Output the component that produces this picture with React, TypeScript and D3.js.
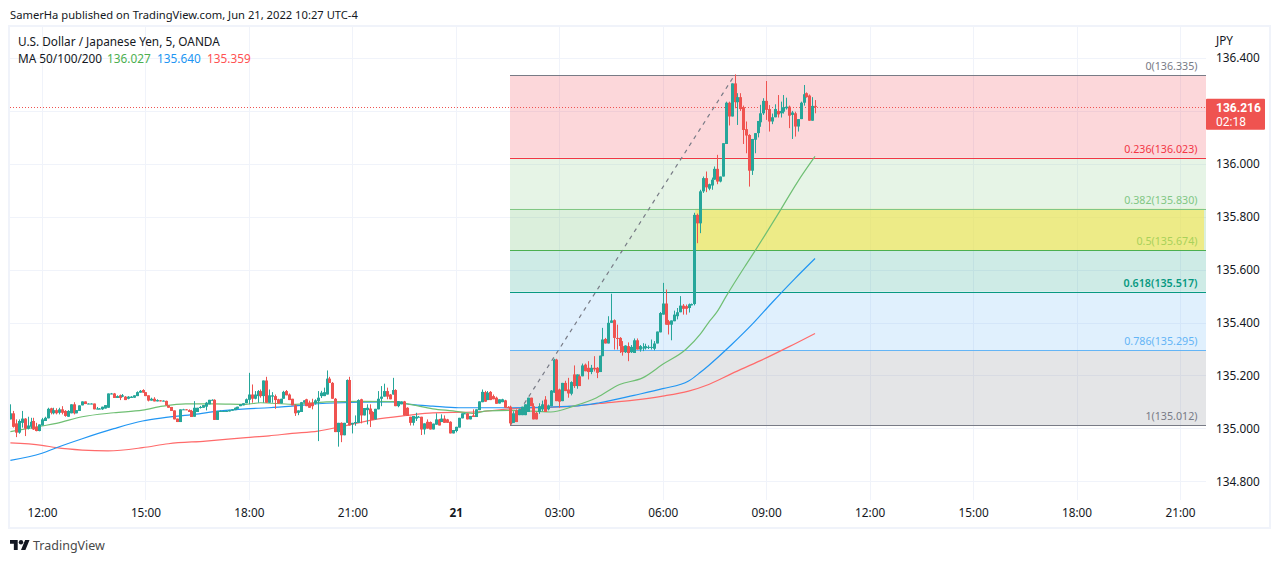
import React, { useRef, useEffect } from "react";
import {
  select,
  scaleLinear,
  scaleUtc,
  axisRight,
  axisBottom,
  line,
  curveMonotoneX,
  format,
  utcFormat,
  utcHour,
} from "d3";

// 5 minute candles, first one is 55 minutes before the 12:00 tick
const FIRST_BAR = -11;
const BAR_MS = 5 * 60 * 1000;
const T0 = Date.UTC(2022, 5, 20, 12, 0);
const T1 = Date.UTC(2022, 5, 21, 21, 0);

const opens = [
  135.034,135.057,135.019,134.984,135.021,135.037,134.999,135.006,135.028,135.006,
  134.990,135.011,135.028,135.038,135.076,135.057,135.069,135.059,135.072,135.066,
  135.044,135.057,135.091,135.057,135.066,135.087,135.102,135.092,135.094,135.094,
  135.072,135.075,135.072,135.075,135.078,135.130,135.132,135.115,135.125,135.120,
  135.120,135.112,135.115,135.116,135.122,135.135,135.145,135.137,135.125,135.105,
  135.112,135.102,135.106,135.104,135.104,135.087,135.081,135.068,135.037,135.024,
  135.072,135.072,135.069,135.066,135.044,135.062,135.077,135.078,135.082,135.091,
  135.106,135.108,135.032,135.066,135.066,135.066,135.064,135.067,135.069,135.074,
  135.084,135.087,135.095,135.108,135.128,135.112,135.122,135.141,135.122,135.181,
  135.097,135.120,135.122,135.110,135.094,135.112,135.141,135.128,135.112,135.087,
  135.059,135.062,135.097,135.110,135.097,135.097,135.094,135.103,135.122,135.122,
  135.128,135.188,135.172,135.112,134.986,135.021,134.974,135.021,135.183,135.015,
  135.021,135.021,135.110,135.049,135.069,135.075,135.062,135.034,135.072,135.112,
  135.120,135.141,135.128,135.128,135.145,135.084,135.091,135.102,135.078,135.044,
  135.021,135.037,135.044,135.044,134.996,135.025,135.024,134.996,135.014,135.034,
  135.024,135.037,135.034,135.025,134.981,134.990,135.003,135.038,135.054,135.057,
  135.034,135.049,135.043,135.069,135.099,135.137,135.107,135.138,135.122,135.116,
  135.094,135.099,135.106,135.081,135.082,135.021,135.068,135.050,135.050,135.050,
  135.062,135.116,135.084,135.059,135.062,135.072,135.109,135.072,135.084,135.135,
  135.260,135.147,135.103,135.172,135.147,135.131,135.204,135.160,135.197,135.197,
  135.241,135.229,135.213,135.229,135.229,135.213,135.273,135.338,135.321,135.399,
  135.409,135.342,135.342,135.311,135.288,135.311,135.288,135.285,135.333,135.298,
  135.304,135.303,135.308,135.306,135.301,135.321,135.363,135.430,135.472,135.405,
  135.392,135.405,135.424,135.439,135.464,135.462,135.455,135.465,135.470,135.807,
  135.775,135.896,135.946,135.906,135.918,135.940,135.981,135.933,135.952,136.075,
  136.231,136.179,136.304,136.233,136.252,136.214,136.131,136.109,135.974,136.091,
  136.116,136.157,136.191,136.238,136.207,136.160,136.176,136.200,136.191,136.197,
  136.210,136.216,136.185,136.191,136.141,136.169,136.231,136.267,136.258,136.163,136.219,
];
const highs = [
  135.091,135.066,135.034,135.034,135.066,135.039,135.044,135.040,135.040,135.021,
  135.015,135.040,135.044,135.078,135.078,135.078,135.076,135.078,135.084,135.069,
  135.069,135.091,135.099,135.069,135.087,135.102,135.102,135.095,135.095,135.094,
  135.081,135.077,135.082,135.088,135.132,135.134,135.134,135.125,135.128,135.130,
  135.122,135.122,135.122,135.125,135.140,135.145,135.148,135.137,135.125,135.116,
  135.118,135.110,135.107,135.106,135.105,135.087,135.081,135.068,135.037,135.072,
  135.074,135.073,135.072,135.070,135.103,135.078,135.085,135.088,135.100,135.108,
  135.110,135.110,135.066,135.068,135.067,135.067,135.070,135.073,135.079,135.082,
  135.091,135.095,135.113,135.210,135.166,135.141,135.145,135.147,135.181,135.195,
  135.147,135.137,135.128,135.112,135.112,135.142,135.145,135.132,135.112,135.091,
  135.068,135.100,135.106,135.112,135.105,135.112,135.110,135.141,135.142,135.154,
  135.219,135.195,135.175,135.115,135.021,135.023,135.021,135.185,135.195,135.021,
  135.049,135.110,135.112,135.077,135.091,135.091,135.065,135.074,135.141,135.160,
  135.169,135.154,135.130,135.191,135.148,135.103,135.102,135.104,135.080,135.044,
  135.047,135.059,135.047,135.044,135.019,135.034,135.026,135.018,135.057,135.036,
  135.053,135.049,135.036,135.027,134.994,135.006,135.040,135.057,135.058,135.057,
  135.047,135.072,135.072,135.102,135.147,135.142,135.141,135.141,135.128,135.120,
  135.110,135.112,135.108,135.084,135.086,135.065,135.072,135.075,135.082,135.091,
  135.116,135.116,135.095,135.062,135.095,135.105,135.122,135.090,135.145,135.263,
  135.263,135.150,135.172,135.180,135.191,135.178,135.238,135.204,135.204,135.245,
  135.245,135.254,135.240,135.273,135.232,135.275,135.380,135.342,135.424,135.509,
  135.412,135.392,135.345,135.330,135.314,135.325,135.315,135.340,135.340,135.315,
  135.322,135.320,135.314,135.336,135.330,135.366,135.440,135.550,135.525,135.410,
  135.408,135.445,135.455,135.500,135.470,135.468,135.472,135.472,135.815,135.812,
  135.902,135.952,135.971,135.925,135.948,135.990,136.034,135.952,136.078,136.235,
  136.235,136.304,136.338,136.267,136.267,136.220,136.160,136.112,136.094,136.116,
  136.162,136.223,136.248,136.313,136.222,136.190,136.225,136.260,136.235,136.260,
  136.250,136.220,136.200,136.197,136.169,136.235,136.298,136.270,136.262,136.252,136.241,
];
const lows = [
  135.034,135.003,134.967,134.980,135.003,134.971,134.996,134.999,134.994,134.989,
  134.989,135.011,135.028,135.038,135.053,135.053,135.053,135.053,135.053,135.044,
  135.044,135.057,135.053,135.057,135.066,135.087,135.092,135.092,135.092,135.072,
  135.072,135.072,135.070,135.075,135.078,135.129,135.115,135.115,135.107,135.118,
  135.107,135.110,135.115,135.116,135.122,135.135,135.135,135.122,135.102,135.105,
  135.102,135.102,135.102,135.102,135.087,135.078,135.066,135.034,135.024,135.024,
  135.070,135.069,135.062,135.043,135.044,135.062,135.075,135.078,135.068,135.091,
  135.106,135.032,135.032,135.063,135.065,135.065,135.064,135.067,135.069,135.074,
  135.084,135.087,135.095,135.091,135.097,135.110,135.097,135.116,135.097,135.097,
  135.097,135.097,135.074,135.094,135.094,135.112,135.125,135.107,135.087,135.047,
  135.050,135.062,135.097,135.084,135.078,135.072,135.090,134.952,135.115,135.122,
  135.128,135.172,135.112,134.986,134.931,134.948,134.974,135.021,135.011,134.981,
  135.010,135.021,135.019,135.049,135.015,135.005,135.032,135.034,135.072,135.084,
  135.120,135.110,135.110,135.128,135.084,135.080,135.091,135.049,135.047,135.011,
  135.011,135.028,135.042,134.975,134.977,134.999,134.996,134.996,135.014,135.011,
  135.024,135.021,135.021,134.981,134.981,134.985,135.003,135.038,135.054,135.034,
  135.034,135.043,135.043,135.069,135.099,135.101,135.107,135.107,135.110,135.093,
  135.094,135.099,135.078,135.078,135.012,135.021,135.024,135.050,135.050,135.050,
  135.062,135.084,135.034,135.034,135.055,135.065,135.062,135.068,135.084,135.135,
  135.103,135.078,135.103,135.141,135.116,135.125,135.153,135.150,135.160,135.197,
  135.216,135.185,135.205,135.215,135.190,135.213,135.273,135.321,135.321,135.399,
  135.298,135.298,135.285,135.275,135.285,135.254,135.285,135.285,135.298,135.290,
  135.292,135.298,135.300,135.298,135.295,135.321,135.363,135.430,135.392,135.355,
  135.333,135.405,135.412,135.439,135.430,135.430,135.438,135.465,135.465,135.700,
  135.738,135.890,135.893,135.900,135.902,135.940,135.923,135.930,135.952,136.075,
  136.145,136.179,136.210,136.147,136.200,136.075,136.040,135.914,135.958,136.040,
  136.100,136.140,136.185,136.166,136.122,136.150,136.176,136.175,136.175,136.190,
  136.205,136.135,136.094,136.103,136.122,136.169,136.220,136.250,136.163,136.163,136.191,
];
const closes = [
  135.057,135.006,134.984,135.028,135.037,134.999,135.011,135.025,134.996,134.990,
  135.015,135.034,135.040,135.074,135.059,135.069,135.057,135.072,135.059,135.047,
  135.066,135.091,135.057,135.069,135.087,135.102,135.092,135.094,135.094,135.072,
  135.075,135.075,135.082,135.088,135.132,135.132,135.115,135.122,135.115,135.125,
  135.107,135.120,135.120,135.125,135.137,135.142,135.135,135.122,135.105,135.112,
  135.102,135.107,135.102,135.105,135.087,135.078,135.066,135.034,135.024,135.072,
  135.072,135.069,135.062,135.043,135.078,135.078,135.081,135.088,135.097,135.108,
  135.108,135.032,135.066,135.066,135.066,135.066,135.069,135.072,135.078,135.082,
  135.091,135.095,135.110,135.128,135.112,135.128,135.141,135.122,135.181,135.097,
  135.125,135.125,135.107,135.094,135.112,135.138,135.125,135.107,135.087,135.057,
  135.068,135.099,135.106,135.084,135.078,135.084,135.106,135.116,135.135,135.137,
  135.188,135.172,135.112,134.986,135.021,134.974,135.021,135.183,135.011,135.021,
  135.024,135.107,135.049,135.077,135.078,135.053,135.032,135.074,135.112,135.120,
  135.141,135.120,135.110,135.145,135.084,135.103,135.102,135.049,135.047,135.021,
  135.047,135.044,135.044,134.996,135.019,134.999,134.996,135.018,135.034,135.011,
  135.037,135.021,135.021,134.981,134.994,135.006,135.040,135.057,135.057,135.034,
  135.047,135.043,135.072,135.102,135.138,135.101,135.135,135.107,135.110,135.093,
  135.110,135.110,135.078,135.078,135.019,135.057,135.024,135.072,135.082,135.091,
  135.116,135.084,135.034,135.034,135.084,135.091,135.062,135.087,135.143,135.260,
  135.103,135.101,135.172,135.141,135.132,135.175,135.160,135.204,135.160,135.238,
  135.216,135.213,135.229,135.223,135.210,135.275,135.336,135.321,135.399,135.408,
  135.342,135.339,135.311,135.288,135.313,135.285,135.308,135.333,135.298,135.311,
  135.306,135.311,135.308,135.308,135.321,135.366,135.436,135.472,135.392,135.392,
  135.408,135.430,135.439,135.464,135.452,135.452,135.469,135.470,135.807,135.775,
  135.896,135.946,135.911,135.923,135.940,135.981,135.933,135.952,136.078,136.231,
  136.179,136.304,136.233,136.252,136.207,136.128,136.107,135.974,136.094,136.116,
  136.162,136.191,136.238,136.204,136.160,136.176,136.207,136.187,136.200,136.214,
  136.216,136.182,136.194,136.141,136.169,136.231,136.263,136.252,136.163,136.219,136.216,
];

// moving averages: bar number (0 = 12:00) and price
const ma50Bars = [-11, 0, 5, 14, 25, 35, 42, 50, 60, 71, 76, 87, 99, 111, 122, 128, 136, 143, 150, 155, 163, 177, 185, 193, 201, 209, 216, 224, 229, 232, 235, 238, 245, 248, 256, 263, 269];
const ma50 = [134.988, 135.009, 135.019, 135.044, 135.059, 135.069, 135.084, 135.093, 135.093, 135.091, 135.097, 135.091, 135.1, 135.102, 135.101, 135.091, 135.074, 135.066, 135.057, 135.066, 135.068, 135.062, 135.084, 135.116, 135.166, 135.191, 135.242, 135.298, 135.355, 135.401, 135.442, 135.498, 135.619, 135.669, 135.808, 135.933, 136.028];
const ma100Bars = [-11, 0, 5, 14, 25, 35, 42, 53, 62, 71, 79, 87, 99, 122, 128, 136, 145, 163, 185, 194, 206, 216, 225, 229, 232, 240, 247, 254, 262, 269];
const ma100 = [134.879, 134.906, 134.927, 134.961, 134.999, 135.028, 135.04, 135.053, 135.066, 135.074, 135.078, 135.084, 135.095, 135.1, 135.091, 135.084, 135.078, 135.078, 135.084, 135.097, 135.125, 135.15, 135.179, 135.211, 135.238, 135.317, 135.392, 135.475, 135.566, 135.642];
const ma200Bars = [-11, 0, 5, 14, 23, 35, 44, 57, 71, 79, 87, 96, 105, 116, 127, 136, 150, 163, 185, 194, 206, 216, 225, 232, 240, 250, 260, 269];
const ma200 = [134.945, 134.936, 134.927, 134.918, 134.915, 134.927, 134.942, 134.952, 134.965, 134.972, 134.981, 134.99, 135.009, 135.034, 135.049, 135.059, 135.062, 135.074, 135.084, 135.094, 135.107, 135.122, 135.141, 135.166, 135.207, 135.256, 135.309, 135.359];
const maLabels = ["136.027", "135.640", "135.359"];

// grid runs on all of these, the 136.200 label sits under the last price tag
const priceTicks = [136.4, 136.2, 136.0, 135.8, 135.6, 135.4, 135.2, 135.0, 134.8];
const priceLabels = [136.4, 136.0, 135.8, 135.6, 135.4, 135.2, 135.0, 134.8];

const fibRatios = ["0", "0.236", "0.382", "0.5", "0.618", "0.786", "1"];
const fibPrices = [136.335, 136.023, 135.83, 135.674, 135.517, 135.295, 135.012];
const fibColors = ["#787B86", "#F23645", "#81C784", "#4CAF50", "#089981", "#64B5F6", "#787B86"];
const fibTextColors = ["#787B86", "#F23645", "#81C784", "#A9D15A", "#089981", "#64B5F6", "#787B86"];
const fibFills = ["#F23645", "#81C784", "#4CAF50", "#089981", "#64B5F6", "#787B86"];

const LAST_PRICE = 136.216;
const FONT = "'Noto Sans', sans-serif";
const UP = "#26A69A";
const DOWN = "#EF5350";

const App: React.FC = () => {
  const chartRef = useRef(null);

  useEffect(() => {
    const svg = select(chartRef.current);
    svg.selectAll("*").remove();

    const paneRight = 1206;
    const paneBottom = 500;
    const paneTop = 27;
    const paneLeft = 10;

    const xScale = scaleUtc().domain([T0, T1]).range([42, 1180]);
    const yScale = scaleLinear().domain([134.8, 136.4]).range([481.3, 58]);
    const barX = (i: number) => xScale(T0 + i * BAR_MS);

    svg.append("rect").attr("width", 1280).attr("height", 563).attr("fill", "#fff");

    // clip everything that runs past the left edge of the pane
    svg.append("clipPath").attr("id", "pane")
      .append("rect")
      .attr("x", paneLeft).attr("y", paneTop)
      .attr("width", paneRight - paneLeft).attr("height", paneBottom - paneTop);

    const pane = svg.append("g").attr("clip-path", "url(#pane)");

    const timeTicks = utcHour.range(new Date(T0), new Date(T1 + 1), 3);

    // grid
    pane.selectAll(".hgrid").data(priceTicks).enter().append("line")
      .attr("x1", paneLeft).attr("x2", paneRight)
      .attr("y1", (d: number) => Math.round(yScale(d)) + 0.5)
      .attr("y2", (d: number) => Math.round(yScale(d)) + 0.5)
      .attr("stroke", "#F0F3FA");
    pane.selectAll(".vgrid").data(timeTicks).enter().append("line")
      .attr("y1", paneTop).attr("y2", paneBottom)
      .attr("x1", (d: Date) => Math.round(xScale(d)) + 0.5)
      .attr("x2", (d: Date) => Math.round(xScale(d)) + 0.5)
      .attr("stroke", "#F0F3FA");

    // fib retracement
    const fibLeft = Math.round(barX(163));
    fibFills.forEach((fill, k) => {
      pane.append("rect")
        .attr("x", fibLeft)
        .attr("y", yScale(fibPrices[k]))
        .attr("width", paneRight - fibLeft)
        .attr("height", yScale(fibPrices[k + 1]) - yScale(fibPrices[k]))
        .attr("fill", fill)
        .attr("fill-opacity", 0.2);
    });
    // the yellow box sitting on the 0.382 - 0.5 band
    const boxLeft = barX(227) + 1;
    pane.append("rect")
      .attr("x", boxLeft)
      .attr("y", yScale(fibPrices[2]))
      .attr("width", paneRight - 2 - boxLeft)
      .attr("height", yScale(fibPrices[3]) - yScale(fibPrices[2]))
      .attr("fill", "rgb(249,232,78)")
      .attr("fill-opacity", 0.6);
    fibPrices.forEach((p, k) => {
      const y = Math.round(yScale(p)) + 0.5;
      pane.append("line")
        .attr("x1", fibLeft).attr("x2", paneRight)
        .attr("y1", y).attr("y2", y)
        .attr("stroke", fibColors[k]);
      pane.append("text")
        .attr("x", 1197.5)
        .attr("y", y - 5.5)
        .attr("text-anchor", "end")
        .attr("font-size", 10.7)
        .attr("font-family", FONT)
        .attr("font-weight", k === 4 ? 600 : 400)
        .attr("fill", fibTextColors[k])
        .text(`${fibRatios[k]}(${p.toFixed(3)})`);
    });

    // dashed trend line of the fib
    pane.append("line")
      .attr("x1", barX(163)).attr("y1", yScale(fibPrices[6]))
      .attr("x2", barX(241)).attr("y2", yScale(fibPrices[0]))
      .attr("stroke", "#787B86")
      .attr("stroke-width", 1.2)
      .attr("stroke-dasharray", "4 4.5");

    // last price line
    const lastY = Math.round(yScale(LAST_PRICE)) + 0.5;
    pane.append("line")
      .attr("x1", paneLeft).attr("x2", paneRight)
      .attr("y1", lastY).attr("y2", lastY)
      .attr("stroke", DOWN)
      .attr("stroke-dasharray", "1 2");

    // moving averages
    const drawMa = (bars: number[], values: number[], color: string) => {
      const path = line<number>()
        .x((_, k) => barX(bars[k]))
        .y((d) => yScale(d))
        .curve(curveMonotoneX);
      pane.append("path")
        .attr("d", path(values))
        .attr("fill", "none")
        .attr("stroke", color)
        .attr("stroke-width", 1.2);
    };
    drawMa(ma200Bars, ma200, "#FF6B6B");
    drawMa(ma100Bars, ma100, "#2196F3");
    drawMa(ma50Bars, ma50, "#6FBF73");

    // candles
    const barIdx = opens.map((_, k) => k);
    const color = (k: number) => (closes[k] >= opens[k] ? UP : DOWN);
    const cx = (k: number) => Math.round(barX(k + FIRST_BAR));
    pane.selectAll(".wick").data(barIdx).enter().append("rect")
      .attr("x", (k: number) => cx(k))
      .attr("width", 1)
      .attr("y", (k: number) => yScale(highs[k]))
      .attr("height", (k: number) => Math.max(1, yScale(lows[k]) - yScale(highs[k])))
      .attr("fill", color);
    pane.selectAll(".body").data(barIdx).enter().append("rect")
      .attr("x", (k: number) => cx(k) - 1)
      .attr("width", 3)
      .attr("y", (k: number) => yScale(Math.max(opens[k], closes[k])))
      .attr("height", (k: number) => Math.max(1, Math.abs(yScale(opens[k]) - yScale(closes[k]))))
      .attr("fill", color);

    // price axis
    const yAxis = axisRight(yScale)
      .tickValues(priceLabels)
      .tickFormat(format(".3f"))
      .tickSize(0)
      .tickPadding(10);
    const yAxisG = svg.append("g")
      .attr("transform", `translate(${paneRight},0)`)
      .call(yAxis);
    yAxisG.select(".domain").remove();
    yAxisG.selectAll("text")
      .attr("font-size", 11.8)
      .attr("font-family", FONT)
      .attr("fill", "#131722");

    // time axis
    const fmt = utcFormat("%H:%M");
    const xAxis = axisBottom(xScale)
      .tickValues(timeTicks)
      .tickFormat((d: any) => (d.getUTCHours() === 0 ? String(d.getUTCDate()) : fmt(d)))
      .tickSize(0)
      .tickPadding(9);
    const xAxisG = svg.append("g")
      .attr("transform", `translate(0,${paneBottom})`)
      .call(xAxis);
    xAxisG.select(".domain").remove();
    xAxisG.selectAll("text")
      .attr("font-size", 11.8)
      .attr("font-family", FONT)
      .attr("font-weight", (d: any) => (d.getUTCHours() === 0 ? 700 : 400))
      .attr("fill", "#131722");

    // frame
    svg.append("rect")
      .attr("x", 9).attr("y", 26)
      .attr("width", 1261).attr("height", 502)
      .attr("fill", "none")
      .attr("stroke", "#F0F3FA")
      .attr("stroke-width", 2);

    // last price tag
    svg.append("rect")
      .attr("x", paneRight).attr("y", yScale(LAST_PRICE) - 8)
      .attr("width", 59).attr("height", 31)
      .attr("rx", 1)
      .attr("fill", DOWN);
    const tag = (txt: string, y: number, weight: number) =>
      svg.append("text")
        .attr("x", 1216).attr("y", y)
        .attr("font-size", 12)
        .attr("font-family", "Roboto, sans-serif")
        .attr("font-weight", weight)
        .attr("fill", "#fff")
        .text(txt);
    tag(LAST_PRICE.toFixed(3), 112, 700);
    tag("02:18", 126, 400);

    const label = (txt: string, x: number, y: number, fill: string, size = 11.8) =>
      svg.append("text")
        .attr("x", x).attr("y", y)
        .attr("font-size", size)
        .attr("font-family", FONT)
        .attr("fill", fill)
        .text(txt);

    label("SamerHa published on TradingView.com, Jun 21, 2022 10:27 UTC-4", 10, 19, "#131722", 11.2);
    label("U.S. Dollar / Japanese Yen, 5, OANDA", 18, 46, "#131722");
    label("MA 50/100/200", 18, 63, "#131722");
    label(maLabels[0], 107, 63, "#4CAF50");
    label(maLabels[1], 157, 63, "#2196F3");
    label(maLabels[2], 207, 63, "#FF5252");
    label("JPY", 1216, 45, "#131722");

    // TradingView mark
    const logo = svg.append("g").attr("transform", "translate(10,537.8) scale(0.55)").attr("fill", "#131722");
    logo.append("path").attr("d", "M14 22H7V11H0V4h14v18zM28 22h-8l7.5-18h8L28 22z");
    logo.append("circle").attr("cx", 20).attr("cy", 8).attr("r", 4);
    svg.append("text")
      .attr("x", 33).attr("y", 550)
      .attr("font-size", 12.5)
      .attr("font-family", FONT)
      .attr("fill", "#4A4A4A")
      .text("TradingView");
  }, []);

  return (
    <svg
      ref={chartRef}
      width={1280}
      height={563}
      style={{ position: "absolute", left: 0, top: 0 }}
    />
  );
};

export default App;
